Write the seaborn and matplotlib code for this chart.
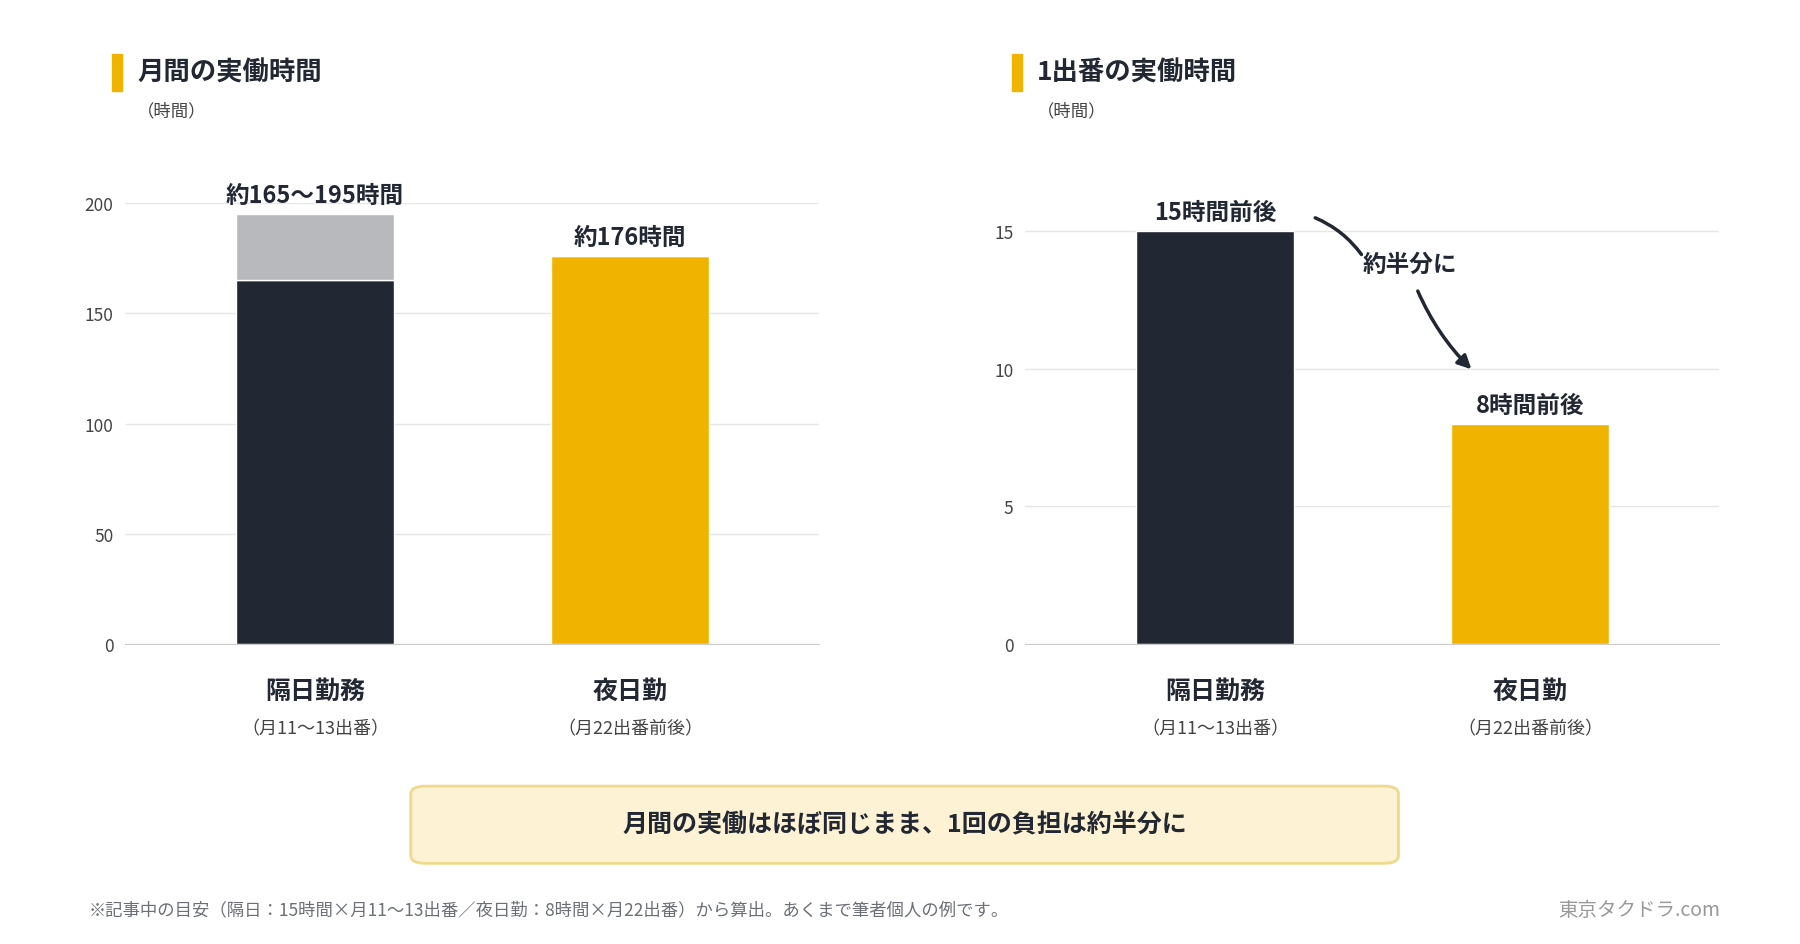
import matplotlib as mpl
import matplotlib.pyplot as plt
import seaborn as sns
from matplotlib.patches import FancyBboxPatch, Rectangle

mpl.use("Agg")

# data
categories = ["隔日勤務", "夜日勤"]
sub_labels = ["（月11〜13出番）", "（月22出番前後）"]
monthly_low = [165, 176]
monthly_extra = [30, 0]
monthly_labels = ["約165〜195時間", "約176時間"]
per_shift = [15, 8]
shift_labels = ["15時間前後", "8時間前後"]

DARK = "#222833"
YELLOW = "#F0B400"
GRAYBAR = "#B8B9BD"
TEXT = "#222833"
MUTED = "#6B6F76"

sns.set_style("white")
plt.rcParams["font.family"] = ["Noto Sans CJK JP", "DejaVu Sans"]

W, H = 1560, 820  # layout units
fig = plt.figure(figsize=(18, 9.45), dpi=100)


def fx(px):
    return px / W


def fy(py):
    return 1 - py / H


def setup(ax, ylim, ticks):
    ax.set_xlim(-0.604, 1.6)
    ax.set_ylim(*ylim)
    ax.set_yticks(ticks)
    ax.yaxis.grid(True, color="#E6E6E6", linewidth=1)
    ax.set_axisbelow(True)
    for s in ["top", "right", "left"]:
        ax.spines[s].set_visible(False)
    ax.spines["bottom"].set_color("#CCCCCC")
    ax.tick_params(axis="y", length=0, labelsize=12.5, labelcolor="#444", pad=8)
    ax.set_xticks([])
    ax.set_xlabel("")
    ax.set_ylabel("")
    for i, (c, s) in enumerate(zip(categories, sub_labels)):
        ax.text(i, -0.105, c, transform=ax.get_xaxis_transform(), ha="center",
                va="center", fontsize=18, fontweight="bold", color=TEXT)
        ax.text(i, -0.19, s, transform=ax.get_xaxis_transform(), ha="center",
                va="center", fontsize=13, color="#444")


def title(x, text):
    fig.patches.append(Rectangle((fx(x), fy(80)), fx(9), fy(48) - fy(80),
                                 transform=fig.transFigure, color=YELLOW))
    fig.text(fx(x + 22), fy(63), text, fontsize=19, fontweight="bold",
             color=TEXT, va="center")
    fig.text(fx(x + 22), fy(97), "（時間）", fontsize=12.5, color="#444", va="center")


ax1 = fig.add_axes([fx(108), fy(560), fx(602), fy(177) - fy(560)])
sns.barplot(x=[0, 1], y=monthly_low, hue=[0, 1], palette=[DARK, YELLOW],
            width=0.5, legend=False, ax=ax1, native_scale=True, saturation=1)
ax1.bar([0, 1], monthly_extra, bottom=monthly_low, width=0.5, color=GRAYBAR)
setup(ax1, (0, 200), [0, 50, 100, 150, 200])
for i, lab in enumerate(monthly_labels):
    top = monthly_low[i] + monthly_extra[i]
    ax1.text(i, top + 3, lab, ha="center", va="bottom", fontsize=17,
             fontweight="bold", color=TEXT, clip_on=False)

ax2 = fig.add_axes([fx(888), fy(560), fx(602), fy(177) - fy(560)])
sns.barplot(x=[0, 1], y=per_shift, hue=[0, 1], palette=[DARK, YELLOW],
            width=0.5, legend=False, ax=ax2, native_scale=True, saturation=1)
setup(ax2, (0, 16), [0, 5, 10, 15])
for i, lab in enumerate(shift_labels):
    ax2.text(i, per_shift[i] + 0.25, lab, ha="center", va="bottom", fontsize=17,
             fontweight="bold", color=TEXT, clip_on=False)

# arrow with label
ax2.text(0.62, 13.8, "約半分に", ha="center", va="center", fontsize=17,
         fontweight="bold", color=TEXT)
ax2.annotate("", xy=(0.47, 14.05), xytext=(0.31, 15.5),
             arrowprops=dict(arrowstyle="-", color=TEXT, lw=2.5,
                             connectionstyle="arc3,rad=-0.15"))
ax2.annotate("", xy=(0.82, 9.9), xytext=(0.64, 12.9),
             arrowprops=dict(arrowstyle="-|>,head_length=0.8,head_width=0.4",
                             color=TEXT, lw=2.5,
                             connectionstyle="arc3,rad=0.1"))

title(97, "月間の実働時間")
title(877, "1出番の実働時間")

# callout box
box = FancyBboxPatch((fx(356), fy(750)), fx(856), fy(683) - fy(750),
                     boxstyle="round,pad=0,rounding_size=0.008",
                     transform=fig.transFigure, facecolor="#FDF2D3",
                     edgecolor="#F0D98A", linewidth=2)
fig.patches.append(box)
fig.text(fx(784), fy(716), "月間の実働はほぼ同じまま、1回の負担は約半分に",
         ha="center", va="center", fontsize=18, fontweight="bold", color=TEXT)

fig.text(fx(77), fy(790),
         "※記事中の目安（隔日：15時間×月11〜13出番／夜日勤：8時間×月22出番）から算出。あくまで筆者個人の例です。",
         fontsize=12.5, color=MUTED, va="center")
fig.text(fx(1491), fy(790), "東京タクドラ.com", fontsize=14, color="#999",
         ha="right", va="center")

fig.savefig("out.png", dpi=100, facecolor="white")
plt.close()
